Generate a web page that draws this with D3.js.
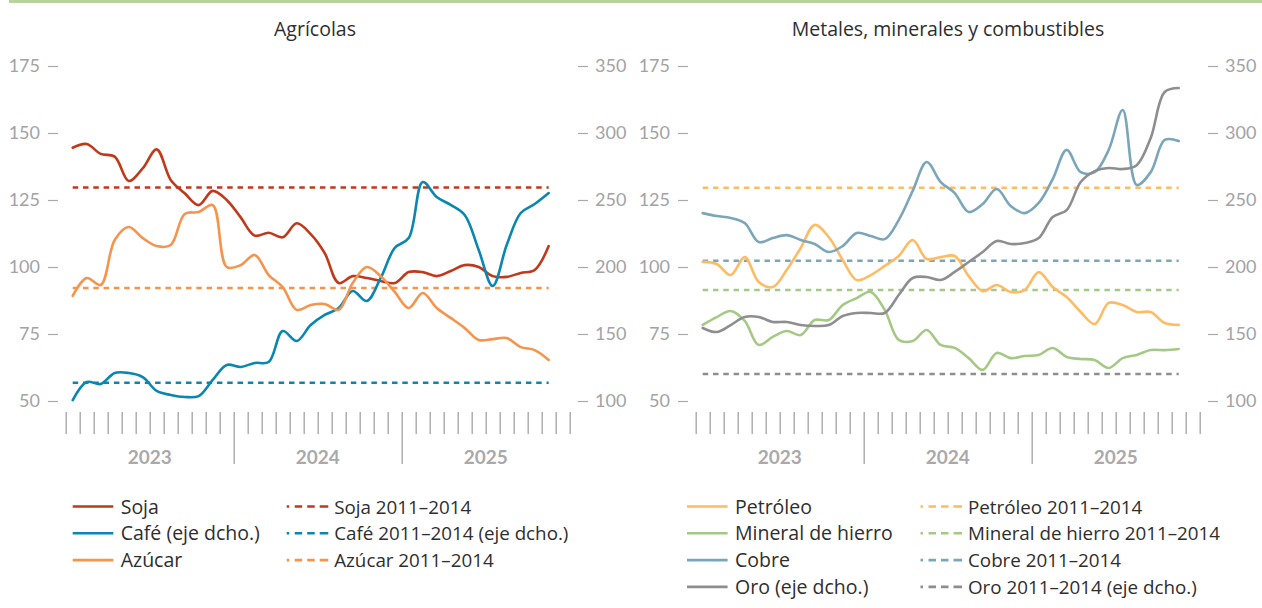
<!DOCTYPE html>
<html>
<head>
<meta charset="utf-8">
<script src="https://cdn.jsdelivr.net/npm/d3@7"></script>
<style>
  body { margin: 0; background: #fff; }
  svg { display: block; font-family: "Open Sans", "Noto Sans", sans-serif; }
</style>
</head>
<body>
<svg id="chart" width="1262" height="608"></svg>
<script>
// monthly values, Jan 2023 .. Nov 2025
var soja = [144.5, 145.9, 142.2, 141.2, 132.1, 136.8, 143.9, 132.5, 127.5, 123.1, 128.4, 125,
            118.5, 111.7, 112.8, 111.1, 116.3, 112.3, 105.2, 94.0, 96.6, 95.9, 94.8, 94.0,
            98.1, 98.1, 96.6, 98.5, 100.7, 100, 96.6, 96.3, 97.8, 98.9, 107.8];
var cafe = [100.7, 114.2, 112.7, 120.9, 120.9, 117.9, 107.5, 104.5, 103, 103.7, 115.7, 126.9,
            125.4, 128.4, 129.1, 152.2, 144.8, 156.7, 164.2, 169.4, 182.1, 174.6, 191.8, 214.2,
            221.6, 263.4, 252.2, 246.3, 238.8, 212.7, 185.8, 216.4, 240.3, 247, 255.2];
var azucar = [89.2, 95.9, 93.3, 110.1, 114.9, 110.8, 107.8, 108.2, 119.8, 120.5, 123.1, 100,
              100.7, 104.5, 97, 92.5, 84, 85.8, 86.2, 84, 94, 100, 96.6, 90.7,
              84.7, 90.3, 84.7, 81, 77.2, 72.8, 73.1, 73.5, 70.1, 69, 65.3];

var petroleo = [101.9, 101.1, 97, 103.7, 94.4, 92.5, 98.9, 107.1, 115.7, 111.2, 102.6, 95.1,
                97, 100.4, 104.1, 110.1, 103, 103.7, 104.1, 96.6, 91, 93.3, 90.7, 91.4,
                98.1, 92.5, 88.8, 83.2, 78.7, 86.6, 85.8, 83.2, 83.2, 79.1, 78.4];
var hierro = [78.4, 81.3, 83.6, 79.9, 70.9, 73.9, 76.1, 74.6, 80.2, 80.2, 85.8, 88.4,
              90.7, 84, 72.8, 72.4, 76.5, 70.9, 69.8, 66, 61.6, 67.9, 66, 66.8,
              67.2, 69.8, 66.4, 65.7, 65.3, 62.3, 66, 67.2, 69, 69, 69.4];
var cobre = [120.1, 119, 118.3, 116.4, 109.3, 110.8, 111.9, 110.1, 108.6, 105.6, 107.8, 112.7,
             111.6, 110.4, 117.5, 128.4, 139.2, 131.7, 127.6, 120.5, 123.5, 129.1, 122.8, 120.1,
             123.9, 132.8, 143.7, 135.4, 135.4, 143.7, 158.6, 130.6, 135.4, 147.4, 147];
var oro = [154.5, 151.5, 156.7, 162.7, 162.7, 159, 159, 156.7, 156, 156.7, 163.4, 165.7,
           165.7, 165.7, 179.1, 191.8, 192.5, 190.3, 196.3, 203.7, 211.2, 219.4, 217.2, 217.9,
           221.6, 237.3, 242.5, 263.4, 271.6, 273.9, 273.1, 276, 296.3, 330.6, 333.6];

// 2011-2014 averages
var refAgri = [129.7, 113.7, 92.2];
var refMet = [129.6, 91.4, 102.3, 120.1];

var years = ["2023", "2024", "2025"];
var leftTicks = [50, 75, 100, 125, 150, 175];
var rightTicks = [100, 150, 200, 250, 300, 350];

var svg = d3.select("#chart");

svg.append("rect").attr("x", 9).attr("y", 0).attr("width", 1253).attr("height", 3)
    .attr("fill", "#b7d29a");

var panels = [
    {
        title: "Agrícolas", x0: 65.7, titleX: 315, legX: 72.7, legX2: 286.7,
        series: [
            { name: "Soja", values: soja, ref: refAgri[0], color: "#c0391b", right: false },
            { name: "Café (eje dcho.)", refName: "Café 2011–2014 (eje dcho.)", values: cafe, ref: refAgri[1], color: "#0a86b2", right: true },
            { name: "Azúcar", values: azucar, ref: refAgri[2], color: "#f5944c", right: false }
        ]
    },
    {
        title: "Metales, minerales y combustibles", x0: 695.7, titleX: 948, legX: 687, legX2: 920.5,
        series: [
            { name: "Petróleo", values: petroleo, ref: refMet[0], color: "#fdbb63", right: false },
            { name: "Mineral de hierro", values: hierro, ref: refMet[1], color: "#a5c985", right: false },
            { name: "Cobre", values: cobre, ref: refMet[2], color: "#7ba6b9", right: false },
            { name: "Oro (eje dcho.)", refName: "Oro 2011–2014 (eje dcho.)", values: oro, ref: refMet[3], color: "#8e8e91", right: true }
        ]
    }
];

panels.forEach(function (p) {
    var g = svg.append("g");
    var x = d3.scaleLinear().domain([0, 36]).range([p.x0, p.x0 + 504]);
    var yL = d3.scaleLinear().domain([50, 175]).range([401, 66]);
    var yR = d3.scaleLinear().domain([100, 350]).range([401, 66]);

    g.append("text").attr("x", p.titleX).attr("y", 36).attr("text-anchor", "middle")
        .attr("font-size", 19.5).attr("fill", "#2e2e2e").text(p.title);

    var axL = g.append("g").attr("transform", "translate(" + (p.x0 - 7.7) + ",0)")
        .call(d3.axisLeft(yL).tickValues(leftTicks).tickSize(10).tickPadding(8));
    var axR = g.append("g").attr("transform", "translate(" + (p.x0 + 512.3) + ",0)")
        .call(d3.axisRight(yR).tickValues(rightTicks).tickSize(10).tickPadding(7));
    [axL, axR].forEach(function (a) {
        a.select(".domain").remove();
        a.selectAll("line").attr("stroke", "#a9a9ad").attr("stroke-width", 1.2);
        a.selectAll("text").attr("fill", "#a2a2a7").attr("font-size", 18).attr("font-family", "Lato");
    });

    var axX = g.append("g").attr("transform", "translate(0,412)")
        .call(d3.axisBottom(x).tickValues(d3.range(0, 37)).tickSize(22).tickFormat(""));
    axX.select(".domain").remove();
    axX.selectAll("line").attr("stroke", "#a9a9ad").attr("stroke-width", 1.4)
        .filter(function (d) { return d === 12 || d === 24; }).attr("y2", 52);

    g.selectAll(".year").data(years).enter().append("text")
        .attr("x", function (d, i) { return x(i * 12 + 6); })
        .attr("y", 464).attr("text-anchor", "middle").attr("font-family", "Lato")
        .attr("font-size", 19).attr("font-weight", "bold").attr("fill", "#a9a9ad")
        .text(function (d) { return d; });

    p.series.forEach(function (s) {
        var y = s.right ? yR : yL;
        g.append("line")
            .attr("x1", x(0.5)).attr("x2", x(34.5))
            .attr("y1", y(s.ref)).attr("y2", y(s.ref))
            .attr("stroke", s.color).attr("stroke-width", 2.5).attr("stroke-dasharray", "5.5,4.8");
    });

    p.series.forEach(function (s) {
        var y = s.right ? yR : yL;
        var line = d3.line()
            .x(function (d, i) { return x(i + 0.5); })
            .y(function (d) { return y(d); })
            .curve(d3.curveCatmullRom.alpha(0.5));
        g.append("path").datum(s.values).attr("d", line)
            .attr("fill", "none").attr("stroke", s.color).attr("stroke-width", 2.6)
            .attr("stroke-linejoin", "round").attr("stroke-linecap", "round");
    });

    // legend
    p.series.forEach(function (s, i) {
        var ly = 506.5 + i * 26.8;
        g.append("line").attr("x1", p.legX).attr("x2", p.legX + 40.6).attr("y1", ly).attr("y2", ly)
            .attr("stroke", s.color).attr("stroke-width", 2.6);
        g.append("text").attr("x", p.legX + 48).attr("y", ly + 7).attr("font-size", 19.5)
            .attr("fill", "#2e2e2e").text(s.name);
        g.append("line").attr("x1", p.legX2).attr("x2", p.legX2 + 41.6).attr("y1", ly).attr("y2", ly)
            .attr("stroke", s.color).attr("stroke-width", 2.6)
            .attr("stroke-dasharray", "2.5,5.5,7.5,5,7.5,5,6.5,0");
        g.append("text").attr("x", p.legX2 + 47.5).attr("y", ly + 7).attr("font-size", 18.8)
            .attr("fill", "#2e2e2e").text(s.refName || (s.name + " 2011–2014"));
    });
});
</script>
</body>
</html>
